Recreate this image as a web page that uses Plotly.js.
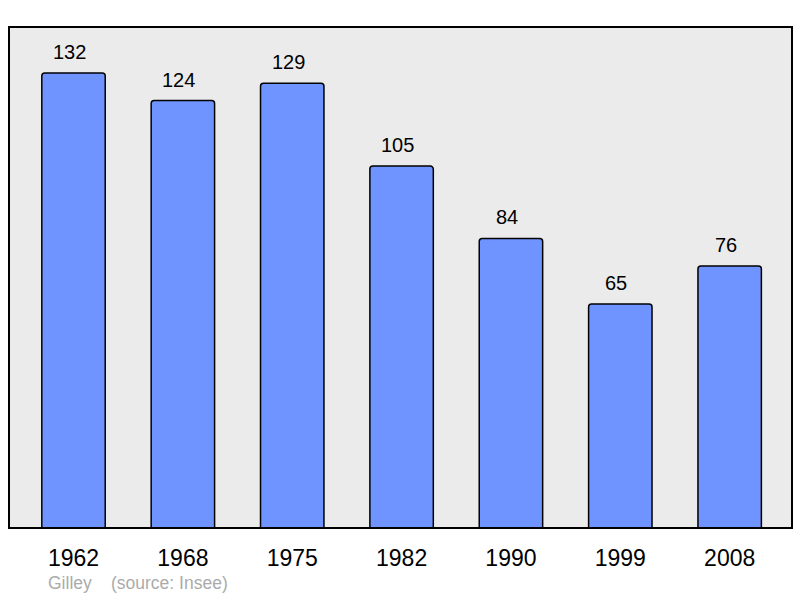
<!DOCTYPE html>
<html>
<head>
<meta charset="utf-8">
<script src="https://cdn.plot.ly/plotly-3.0.1.min.js"></script>
<style>html,body{margin:0;padding:0;background:#fff;}#chart{width:800px;height:598px;}</style>
</head>
<body>
<div id="chart"></div>
<script>
const years = ["1962", "1968", "1975", "1982", "1990", "1999", "2008"];
const population = [132, 124, 129, 105, 84, 65, 76];
const townName = "Gilley";
const sourceText = "(source: Insee)";

const fontFamily = "'Liberation Sans', Arial, sans-serif";

const trace = {
  type: 'bar',
  x: years,
  y: population,
  width: 0.58,
  marker: {
    color: '#7094ff',
    line: {color: '#000000', width: 1.5},
    cornerradius: 3
  },
  hoverinfo: 'none'
};

const annotations = years.map((yr, i) => ({
  x: i, y: population[i], xref: 'x', yref: 'y',
  text: String(population[i]),
  showarrow: false, yanchor: 'bottom', yshift: 8, xshift: -4,
  font: {family: fontFamily, size: 20, color: '#000'}
}));
annotations.push({
  x: 37/783, y: 0, xref: 'paper', yref: 'paper', text: townName, showarrow: false,
  font: {family: fontFamily, size: 17.5, color: '#ababab'}, xanchor: 'left', yanchor: 'middle', yshift: -55
});
annotations.push({
  x: 100/783, y: 0, xref: 'paper', yref: 'paper', text: sourceText, showarrow: false,
  font: {family: fontFamily, size: 17.5, color: '#ababab'}, xanchor: 'left', yanchor: 'middle', yshift: -55
});

const layout = {
  width: 800, height: 598,
  margin: {l: 9, r: 8, t: 27, b: 70},
  paper_bgcolor: '#ffffff',
  plot_bgcolor: '#ebebeb',
  showlegend: false,
  xaxis: {
    type: 'category',
    range: [-0.59, 6.57],
    showgrid: false, zeroline: false, showline: false,
    ticks: '',
    tickfont: {family: fontFamily, size: 23, color: '#000'},
    ticklabelstandoff: 14,
    fixedrange: true
  },
  yaxis: {
    range: [0, 145.35],
    showgrid: false, zeroline: false, showline: false,
    showticklabels: false, ticks: '',
    fixedrange: true
  },
  shapes: [{
    type: 'rect', xref: 'paper', yref: 'paper', x0: 0, x1: 1, y0: 0, y1: 1,
    line: {color: '#000', width: 2}, fillcolor: 'rgba(0,0,0,0)', layer: 'above'
  }],
  annotations: annotations
};

Plotly.newPlot('chart', [trace], layout, {displayModeBar: false, staticPlot: true});
</script>
</body>
</html>
